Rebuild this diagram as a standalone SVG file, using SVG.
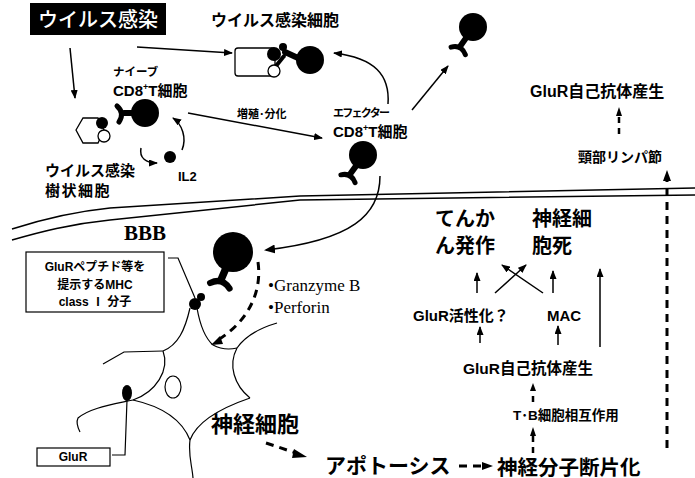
<svg xmlns="http://www.w3.org/2000/svg" width="695" height="478" viewBox="0 0 695 478">
  <style>
    .j { font-family: "Liberation Sans", "Noto Sans CJK JP", sans-serif; font-weight: bold; fill: #000; }
    .s { font-family: "Liberation Serif", "Noto Serif CJK JP", serif; fill: #000; }
    .ln { fill: none; stroke: #000; stroke-width: 1.5; }
    .thin { fill: none; stroke: #000; stroke-width: 1.2; }
    .dash { fill: none; stroke: #000; stroke-width: 3; stroke-dasharray: 8 6; }
    .dashs { fill: none; stroke: #000; stroke-width: 2.5; stroke-dasharray: 6 5; }
    .blk { fill: #000; }
    .wht { fill: #fff; stroke: #000; stroke-width: 1.3; }
    .rc { fill: none; stroke: #000; stroke-linecap: round; }
  </style>
  <defs>
    <marker id="ah" markerUnits="userSpaceOnUse" markerWidth="9" markerHeight="7" refX="8" refY="3.5" orient="auto">
      <path d="M0,0 L9,3.5 L0,7 z" fill="#000"/>
    </marker>
    <marker id="ahb" markerUnits="userSpaceOnUse" markerWidth="11" markerHeight="9" refX="9" refY="4.5" orient="auto">
      <path d="M0,0 L11,4.5 L0,9 z" fill="#000"/>
    </marker>
    <!-- T-cell receptor stalk, pointing towards -x from its base -->
    <g id="tcr">
      <path class="rc" d="M2,0 L-9,0" stroke-width="6"/>
      <path class="rc" d="M-16,-7 Q-8,0 -14,9" stroke-width="5"/>
    </g>
  </defs>

  <!-- blood-brain barrier -->
  <g id="bbb">
    <path class="ln" stroke-width="2" d="M12,229 C40,220 70,212 110,208 L300,196 L695,188"/>
    <path class="ln" stroke-width="2" d="M12,240 C40,232 70,224 110,220 L300,200 L695,195"/>
    <text class="s" x="124" y="240" font-size="21" font-weight="bold">BBB</text>
  </g>

  <g id="connectors">
    <path class="ln" d="M70,48 L75,98" marker-end="url(#ah)"/>
    <path class="ln" d="M137,47 L232,53" marker-end="url(#ah)"/>
    <path class="ln" d="M188,113 L322,138" marker-end="url(#ah)"/>
    <path class="ln" d="M388,104 C390,75 375,58 334,53" marker-end="url(#ah)"/>
    <path class="ln" d="M412,110 L448,66" marker-end="url(#ah)"/>
    <path class="ln" d="M141,148 C139,158 146,163 157,163" marker-end="url(#ah)"/>
    <path class="ln" d="M182,150 C187,138 182,124 173,118" marker-end="url(#ah)"/>
    <path class="ln" stroke-width="2.2" d="M380,176 C380,215 352,240 266,250" marker-end="url(#ahb)"/>
    <path class="dash" stroke-width="3.5" stroke-dasharray="9 6" d="M258,262 C262,290 250,320 218,340"/>
    <path d="M220,336 L211,345 L223,344 z" class="blk"/>
    <path class="thin" d="M168,258 L178,258 L195,298"/>
    <path class="thin" d="M127,400 L125,455 L112,455"/>
    <path class="dash" d="M266,443 L296,453"/>
    <path d="M294,449 L307,457 L292,458 z" class="blk"/>
    <path class="dash" stroke-dasharray="7 5" d="M459,466 L484,466"/>
    <path d="M482,462 L493,466 L482,470 z" class="blk"/>
    <path class="dashs" d="M533,453 L533,434" stroke-dasharray="5 4"/>
    <path d="M530,436 L533,427 L536,436 z" class="blk"/>
    <path class="dashs" d="M533,402 L533,390" stroke-dasharray="5 4"/>
    <path d="M530,391 L533,383 L536,391 z" class="blk"/>
    <path class="ln" d="M480,343 L480,327" marker-end="url(#ah)"/>
    <path class="ln" d="M558,345 L558,326" marker-end="url(#ah)"/>
    <path class="ln" d="M477,293 L477,273" marker-end="url(#ah)"/>
    <path class="ln" d="M553,293 L553,271" marker-end="url(#ah)"/>
    <path class="ln" d="M495,293 L526,265" marker-end="url(#ah)"/>
    <path class="ln" d="M543,293 L502,265" marker-end="url(#ah)"/>
    <path class="ln" d="M600,347 L600,269" marker-end="url(#ah)"/>
    <path class="dash" d="M667,448 L667,180"/>
    <path d="M663,181 L667,170 L671,181 z" class="blk"/>
    <path class="dashs" d="M619,134 L619,116" stroke-dasharray="8 6"/>
    <path d="M616,116 L619,107 L622,116 z" class="blk"/>
  </g>

  <!-- virus infection label -->
  <g id="virus-infection">
    <rect x="30" y="3" width="136" height="32" fill="#000"/>
    <text x="38" y="27" font-family="Noto Sans CJK JP, sans-serif" font-size="20" font-weight="500" fill="#fff">ウイルス感染</text>
  </g>

  <!-- infected cell with bound T cell -->
  <g id="infected-cell">
    <text class="j" x="211" y="26" font-size="16">ウイルス感染細胞</text>
    <rect x="235" y="48" width="40" height="28" rx="3" class="wht" stroke-width="1.5"/>
    <path class="rc" d="M298,58 L285,52" stroke-width="6"/>
    <path class="rc" d="M284,56 L276,66" stroke-width="4"/>
    <circle cx="283" cy="47" r="4" class="blk"/>
    <circle cx="274" cy="54" r="7" class="blk"/>
    <circle cx="274" cy="71" r="6" class="wht"/>
    <circle cx="310" cy="60" r="14" class="blk"/>
  </g>

  <!-- infected dendritic cell -->
  <g id="dendritic-cell">
    <path class="wht" d="M76,130 L83,118 L98,118 L104,130 L98,143 L83,143 z"/>
    <circle cx="102" cy="123" r="6" class="blk"/>
    <circle cx="104" cy="136" r="6" class="wht"/>
    <text class="j" x="45" y="176" font-size="15">ウイルス感染</text>
    <text class="j" x="45" y="196" font-size="15" letter-spacing="1.5">樹状細胞</text>
  </g>

  <!-- naive CD8+ T cell -->
  <g id="naive-t">
    <text class="j" x="113" y="76" font-size="11.5">ナイーブ</text>
    <text class="j" x="113" y="96" font-size="15">CD8<tspan font-size="9" dy="-6">+</tspan><tspan dy="6">T細胞</tspan></text>
    <use href="#tcr" transform="translate(133,113)"/>
    <circle cx="145" cy="113" r="14" class="blk"/>
  </g>

  <!-- IL2 -->
  <g id="il2">
    <circle cx="170" cy="157" r="6" class="blk"/>
    <text class="j" x="178" y="181" font-size="13">IL2</text>
  </g>

  <text class="j" x="237" y="118" font-size="11">増殖･分化</text>

  <!-- effector CD8+ T cell -->
  <g id="effector-t">
    <text class="j" x="333" y="117" font-size="11" textLength="57">エフェクター</text>
    <text class="j" x="333" y="137" font-size="15">CD8<tspan font-size="9" dy="-6">+</tspan><tspan dy="6">T細胞</tspan></text>
    <use href="#tcr" transform="translate(356,166) rotate(-54)"/>
    <circle cx="363" cy="155" r="14" class="blk"/>
  </g>

  <!-- T cell leaving to lymph node -->
  <g id="migrating-t">
    <use href="#tcr" transform="translate(466,38) rotate(-55)"/>
    <circle cx="473" cy="27" r="14" class="blk"/>
  </g>

  <!-- lymph node / autoantibody -->
  <g id="lymph-node">
    <text class="j" x="530" y="97" font-size="16">GluR自己抗体産生</text>
    <text class="j" x="578" y="162" font-size="14">頸部リンパ節</text>
  </g>

  <!-- cytotoxic T cell in the CNS -->
  <g id="ctl">
    <use href="#tcr" transform="translate(226,268) rotate(-67) scale(1.25)"/>
    <circle cx="233" cy="252" r="20" class="blk"/>
    <text class="s" x="268" y="291" font-size="17">•Granzyme B</text>
    <text class="s" x="268" y="313" font-size="17">•Perforin</text>
  </g>

  <!-- MHC class I label -->
  <g id="mhc">
    <rect x="26" y="252" width="138" height="60" fill="#fff" stroke="#000" stroke-width="1.2"/>
    <text class="j" x="95" y="271" font-size="12" text-anchor="middle">GluRペプチド等を</text>
    <text class="j" x="95" y="289" font-size="12" text-anchor="middle">提示するMHC</text>
    <text class="j" x="95" y="306" font-size="12" text-anchor="middle">class Ⅰ 分子</text>
  </g>

  <!-- neuron -->
  <g id="neuron">
    <path class="thin" d="M190,308 C185,330 178,345 163,351"/>
    <path class="thin" d="M197,308 C200,325 205,338 213,345"/>
    <path class="thin" d="M103,364 L124,352 L163,351"/>
    <path class="thin" d="M163,351 C170,370 156,392 133,400"/>
    <path class="thin" d="M133,400 C110,405 90,408 78,418 C76,422 78,428 80,432"/>
    <path class="thin" d="M133,400 Q178,410 190,440"/>
    <path class="thin" d="M190,440 C188,455 192,465 193,478"/>
    <path class="thin" d="M190,440 C196,424 215,410 250,398"/>
    <path class="thin" d="M250,398 C234,385 228,365 237,348"/>
    <path class="thin" d="M213,345 Q224,351 237,348"/>
    <path class="thin" d="M237,348 C246,335 260,328 277,323"/>
    <ellipse cx="173" cy="387" rx="8" ry="11" class="thin"/>
    <ellipse cx="195" cy="304" rx="6" ry="6" class="blk"/>
    <circle cx="201" cy="297" r="4" class="blk"/>
    <ellipse cx="127" cy="393" rx="5" ry="8" class="blk"/>
    <text class="j" x="211" y="432" font-size="22">神経細胞</text>
  </g>

  <!-- GluR label -->
  <g id="glur">
    <rect x="37" y="448" width="73" height="18" fill="#fff" stroke="#000" stroke-width="1.2"/>
    <text class="j" x="73" y="461" font-size="12" text-anchor="middle">GluR</text>
  </g>

  <!-- downstream events -->
  <g id="apoptosis"><text class="j" x="325" y="473" font-size="21">アポトーシス</text></g>
  <g id="fragmentation"><text class="j" x="497" y="475" font-size="20.5">神経分子断片化</text></g>
  <g id="tb-interaction"><text class="j" x="513" y="420" font-size="13.5">T･B細胞相互作用</text></g>
  <g id="autoantibody"><text class="j" x="463" y="374" font-size="15.5">GluR自己抗体産生</text></g>
  <g id="glur-activation"><text class="j" x="413" y="321" font-size="15">GluR活性化？</text></g>
  <g id="mac"><text class="j" x="547" y="321" font-size="15">MAC</text></g>
  <g id="epilepsy">
    <text class="j" x="435" y="226" font-size="20">てんか</text>
    <text class="j" x="435" y="253" font-size="20">ん発作</text>
  </g>
  <g id="neuron-death">
    <text class="j" x="532" y="226" font-size="20">神経細</text>
    <text class="j" x="532" y="253" font-size="20">胞死</text>
  </g>
</svg>
